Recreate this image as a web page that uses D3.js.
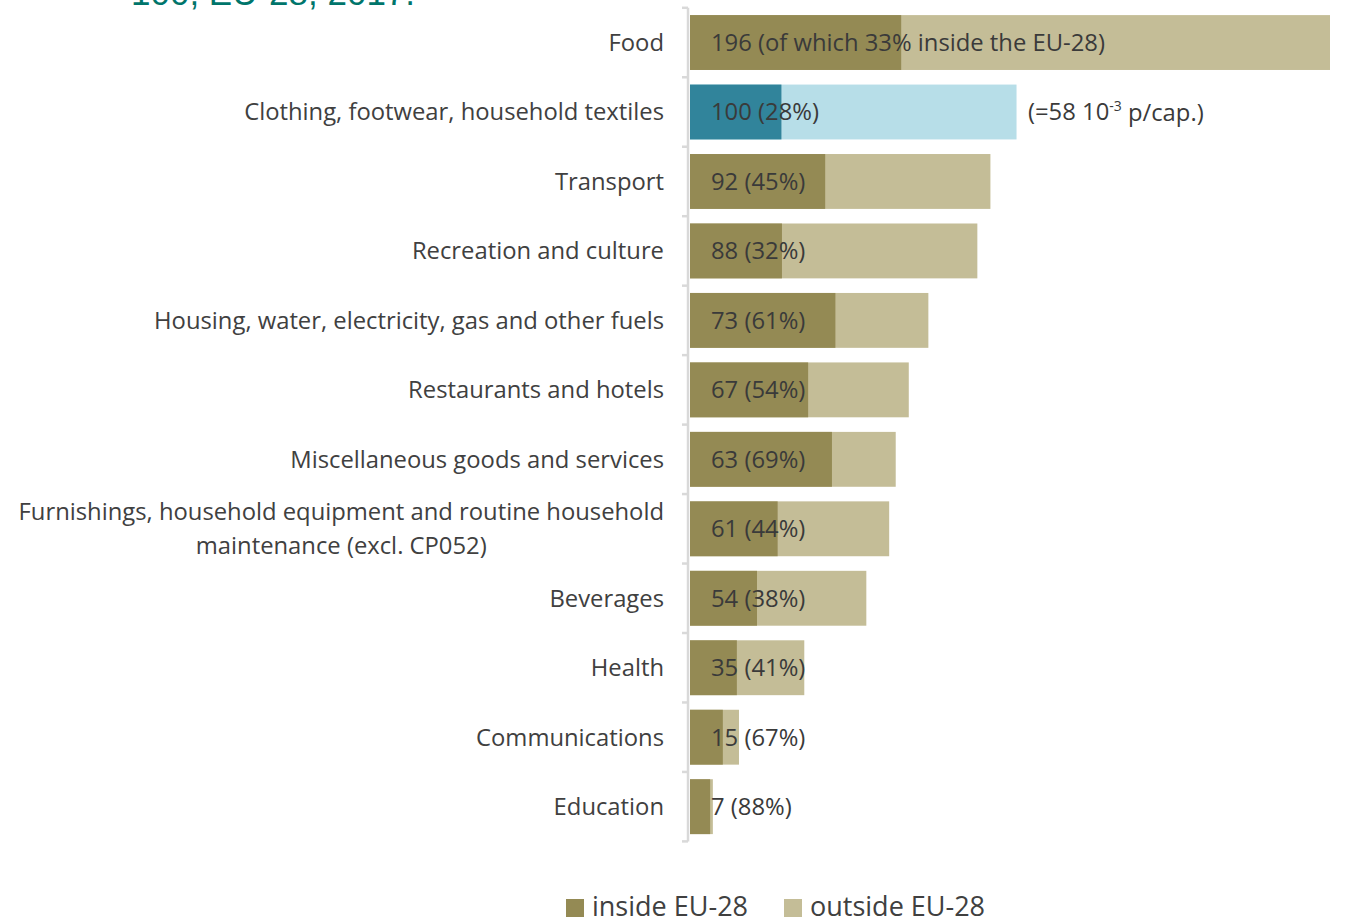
<!DOCTYPE html>
<html lang="en">
<head>
<meta charset="utf-8">
<title>Footprint by consumption domain</title>
<script src="https://cdn.jsdelivr.net/npm/d3@7"></script>
<style>
  body { margin: 0; background: #fff; }
  text { font-family: "Open Sans", sans-serif; }
</style>
</head>
<body>
<script>
// categories, top to bottom
var categories = ["Food", "Clothing, footwear, household textiles", "Transport", "Recreation and culture",
  "Housing, water, electricity, gas and other fuels", "Restaurants and hotels",
  "Miscellaneous goods and services",
  "Furnishings, household equipment and routine household|maintenance (excl. CP052)",
  "Beverages", "Health", "Communications", "Education"];
// index values (EU-28 clothing = 100)
var totals = [196, 100, 92, 88, 73, 67, 63, 61, 54, 35, 15, 7];
// share inside EU-28, percent
var insidePct = [33, 28, 45, 32, 61, 54, 69, 44, 38, 41, 67, 88];
var legendLabels = ["inside EU-28", "outside EU-28"];

var W = 1345, H = 919;
var fs = 23.8;
var svg = d3.select("body").append("svg").attr("width", W).attr("height", H);

var x0 = 690;
var x = d3.scaleLinear().domain([0, 196]).range([x0, 1330]);
var y = d3.scaleBand().domain(d3.range(categories.length)).range([7.8, 841.4]).paddingInner(0.21).paddingOuter(0.105);

// cut-off title at the top
svg.append("text").attr("x", 131).attr("y", 5)
  .style("font-family", "'Liberation Sans', Arial, sans-serif")
  .attr("font-size", 35).attr("fill", "#00756b")
  .text("100, EU-28, 2017.");

var rows = svg.selectAll("g.row").data(categories).enter().append("g").attr("class", "row");

// outside part = full bar
rows.append("rect")
  .attr("x", x(0))
  .attr("y", function(d, i) { return y(i); })
  .attr("width", function(d, i) { return x(totals[i]) - x(0); })
  .attr("height", y.bandwidth())
  .attr("fill", function(d, i) { return i === 1 ? "#b7dee8" : "#c4bd97"; });

// inside part
rows.append("rect")
  .attr("x", x(0))
  .attr("y", function(d, i) { return y(i); })
  .attr("width", function(d, i) { return x(totals[i] * insidePct[i] / 100) - x(0); })
  .attr("height", y.bandwidth())
  .attr("fill", function(d, i) { return i === 1 ? "#31849b" : "#948a54"; });

// value labels
rows.append("text")
  .attr("x", 711)
  .attr("y", function(d, i) { return y(i) + y.bandwidth() / 2; })
  .attr("dy", "0.35em")
  .attr("font-size", fs)
  .attr("fill", "#3a3a3a")
  .text(function(d, i) {
    return i === 0 ? totals[i] + " (of which " + insidePct[i] + "% inside the EU-28)"
                   : totals[i] + " (" + insidePct[i] + "%)";
  });

// per capita note
var note = svg.append("text")
  .attr("x", 1028)
  .attr("y", y(1) + y.bandwidth() / 2)
  .attr("dy", "0.35em")
  .attr("font-size", fs)
  .attr("fill", "#3a3a3a");
note.append("tspan").text("(=58 10");
note.append("tspan").attr("font-size", 14).attr("dy", "-0.7em").text("-3");
note.append("tspan").attr("dy", "0.42em").text(" p/cap.)");

// category labels
rows.each(function(d, i) {
  var g = d3.select(this);
  var lines = d.split("|");
  var cy = y(i) + y.bandwidth() / 2;
  if (lines.length === 1) {
    g.append("text").attr("x", 664).attr("y", cy).attr("dy", "0.35em")
      .attr("text-anchor", "end").attr("font-size", fs).attr("fill", "#404040").text(d);
  } else {
    var t1 = g.append("text").attr("x", 664).attr("y", cy - 17).attr("dy", "0.35em")
      .attr("text-anchor", "end").attr("font-size", fs).attr("fill", "#404040").text(lines[0]);
    var w1 = t1.node().getComputedTextLength();
    g.append("text").attr("x", 664 - w1 / 2).attr("y", cy + 17).attr("dy", "0.35em")
      .attr("text-anchor", "middle").attr("font-size", fs).attr("fill", "#404040").text(lines[1]);
  }
});

// axis line with ticks between categories
var axis = svg.append("g").attr("stroke", "#d9d9d9").attr("stroke-width", 2.5).attr("fill", "none");
axis.append("line").attr("x1", 688).attr("x2", 688).attr("y1", y.range()[0]).attr("y2", y.range()[1]);
var bounds = d3.range(categories.length + 1).map(function(i) {
  return y.range()[0] + i * y.step();
});
axis.selectAll("line.tick").data(bounds).enter().append("line").attr("class", "tick")
  .attr("x1", 682).attr("x2", 688).attr("y1", function(d) { return d; }).attr("y2", function(d) { return d; });

// legend
var legendX = [566, 784];
var legendColors = ["#948a54", "#c4bd97"];
var lg = svg.selectAll("g.legend").data(legendLabels).enter().append("g").attr("class", "legend");
lg.append("rect").attr("x", function(d, i) { return legendX[i]; }).attr("y", 899)
  .attr("width", 18).attr("height", 18).attr("fill", function(d, i) { return legendColors[i]; });
lg.append("text").attr("x", function(d, i) { return legendX[i] + 26; }).attr("y", 916)
  .attr("font-size", 27).attr("fill", "#404040").text(function(d) { return d; });
</script>
</body>
</html>
